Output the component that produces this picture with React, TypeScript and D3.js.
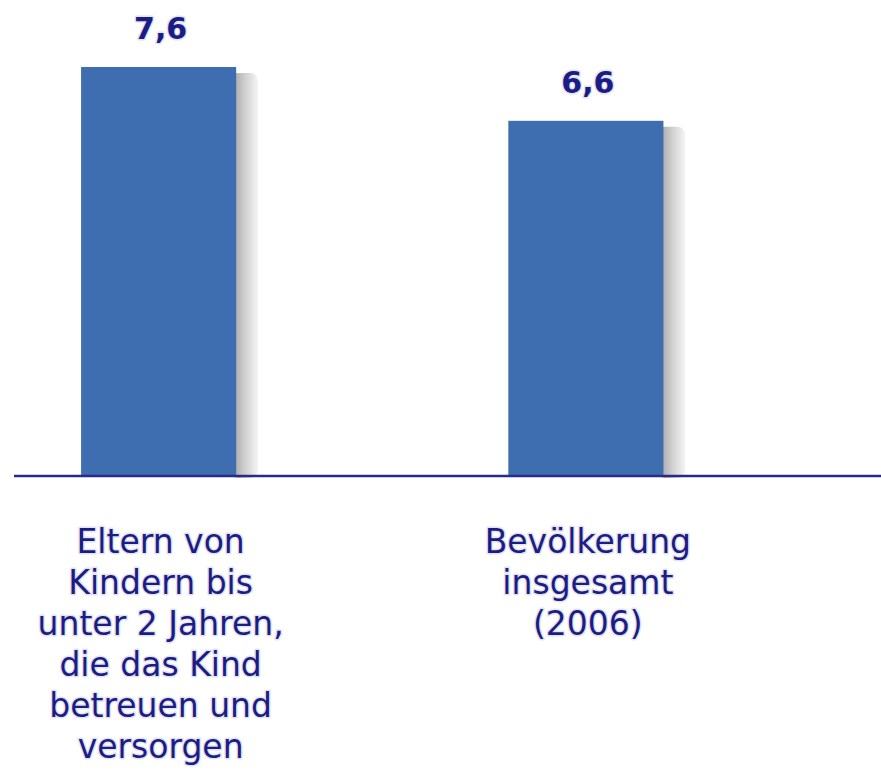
import React from 'react';
import * as d3 from 'd3';

const categories = [
  ['Eltern von', 'Kindern bis', 'unter 2 Jahren,', 'die das Kind', 'betreuen und', 'versorgen'],
  ['Bevölkerung', 'insgesamt', '(2006)'],
];
const values = [7.6, 6.6];
const valueLabels = ['7,6', '6,6'];

const W = 881;
const H = 773;
const baseY = 476;
const navy = '#1c1c86';

export default function App() {
  const xScale = d3.scaleBand<number>()
    .domain(d3.range(values.length))
    .range([14, 730.5])
    .paddingInner(0.637)
    .paddingOuter(0.157);

  const yScale = d3.scaleLinear()
    .domain([0, 7.6])
    .range([baseY, 67]);

  const halo = {
    paintOrder: 'stroke',
    stroke: '#e4e4ee',
    strokeWidth: 3,
    strokeLinejoin: 'round',
  } as React.CSSProperties;

  return (
    <svg width={W} height={H} style={{ position: 'absolute', left: 0, top: 0, background: '#fff' }}>
      <defs>
        <linearGradient id="shadow" x1="0" x2="1" y1="0" y2="0">
          <stop offset="0" stopColor="#9a9a9a" />
          <stop offset="0.5" stopColor="#cdcdcd" />
          <stop offset="1" stopColor="#f6f6f6" />
        </linearGradient>
      </defs>
      {values.map((v, i) => {
        const x = xScale(i)!;
        const bw = xScale.bandwidth();
        const top = yScale(v);
        return (
          <g key={i}>
            <rect x={x + bw - 6} y={top + 6} width={28} height={baseY - top - 4}
              rx={8} fill="url(#shadow)" />
            <rect x={x} y={top} width={bw} height={baseY - top} fill="#3e6eb0" />
            <text x={x + bw / 2 + 2} y={top - 28} textAnchor="middle"
              fontFamily="'DejaVu Sans', sans-serif" fontWeight="bold" fontSize={30}
              fill={navy} style={halo}>{valueLabels[i]}</text>
          </g>
        );
      })}
      <line x1={14} x2={W} y1={baseY} y2={baseY} stroke="#2a2a8a" strokeWidth={2.5} />
      {categories.map((lines, i) => (
        <text key={i} textAnchor="middle" fontFamily="'DejaVu Sans', sans-serif"
          fontSize={33} fill={navy} style={halo}>
          {lines.map((l, j) => (
            <tspan key={j} x={xScale(i)! + xScale.bandwidth() / 2 + 2} y={553 + j * 41}>{l}</tspan>
          ))}
        </text>
      ))}
    </svg>
  );
}
